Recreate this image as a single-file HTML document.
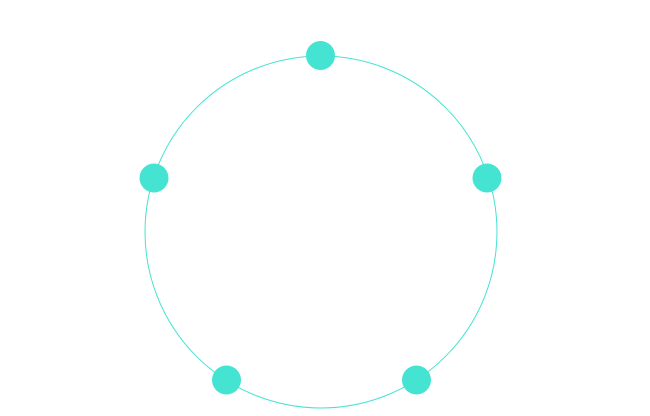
<!DOCTYPE html>
<html>
<head>
<meta charset="utf-8">
<style>
html,body{margin:0;padding:0;background:#fff;}
svg{display:block;}
</style>
</head>
<body>
<svg width="650" height="416" viewBox="0 0 650 416" xmlns="http://www.w3.org/2000/svg">
  <circle cx="321" cy="232" r="176" fill="none" stroke="#45E3D2" stroke-width="1"/>
  <g fill="#45E3D2">
    <circle cx="320.5" cy="55.5" r="14.5"/>
    <circle cx="487" cy="178" r="14.5"/>
    <circle cx="154" cy="178" r="14.5"/>
    <circle cx="226.5" cy="380" r="14.5"/>
    <circle cx="416.5" cy="380" r="14.5"/>
  </g>
</svg>
</body>
</html>
